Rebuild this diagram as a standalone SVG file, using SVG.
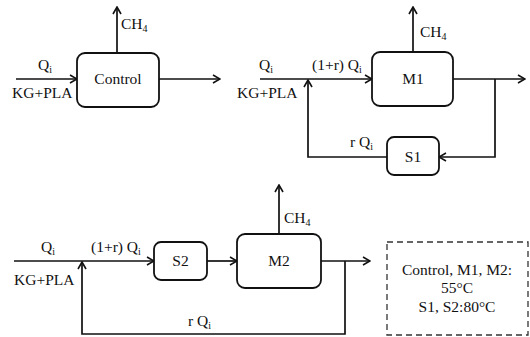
<svg xmlns="http://www.w3.org/2000/svg" width="530" height="337" viewBox="0 0 530 337">
<style>
.box{fill:#fff;stroke:#111;stroke-width:1.8}
.ln{fill:none;stroke:#111;stroke-width:1.7}
.ar{marker-end:url(#ah)}
text{font-family:"Liberation Serif","Times New Roman",serif;font-size:15.5px;fill:#111}
.c{text-anchor:middle}
.sub{font-size:10px}
</style>
<defs>
<marker id="ah" viewBox="0 0 10 10" refX="9" refY="5" markerWidth="10" markerHeight="10" markerUnits="userSpaceOnUse" orient="auto">
<path d="M2,1 L9,5 L2,9" fill="none" stroke="#111" stroke-width="1.6"/>
</marker>
</defs>
<g id="connectors">
<line class="ln ar" x1="16" y1="79" x2="77" y2="79"/>
<line class="ln ar" x1="117" y1="53" x2="117" y2="7"/>
<line class="ln ar" x1="159" y1="79" x2="220" y2="79"/>
<line class="ln ar" x1="260" y1="79" x2="372" y2="79"/>
<line class="ln ar" x1="413" y1="52" x2="413" y2="7"/>
<line class="ln ar" x1="453" y1="79" x2="525" y2="79"/>
<polyline class="ln ar" points="495,79 495,157 439,157"/>
<polyline class="ln ar" points="387,157 308,157 308,80"/>
<line class="ln ar" x1="14" y1="261" x2="154" y2="261"/>
<line class="ln ar" x1="207" y1="261" x2="237" y2="261"/>
<line class="ln ar" x1="279" y1="234" x2="279" y2="185"/>
<line class="ln ar" x1="321" y1="261" x2="370" y2="261"/>
<polyline class="ln ar" points="345,261 345,334 82,334 82,262"/>
</g>
<g id="control">
<rect class="box" x="77" y="53" width="82" height="54" rx="8"/>
<text class="c" x="118" y="84">Control</text>
</g>
<g id="m1">
<rect class="box" x="372" y="52" width="81" height="54" rx="8"/>
<text class="c" x="413" y="84">M1</text>
</g>
<g id="s1">
<rect class="box" x="387" y="137" width="52" height="38" rx="7"/>
<text class="c" x="413" y="162">S1</text>
</g>
<g id="s2">
<rect class="box" x="154" y="242" width="53" height="38" rx="7"/>
<text class="c" x="180.5" y="266">S2</text>
</g>
<g id="m2">
<rect class="box" x="237" y="234" width="84" height="54" rx="8"/>
<text class="c" x="279" y="266">M2</text>
</g>
<g id="legend">
<rect x="387" y="242" width="141" height="93" fill="#fff" stroke="#333" stroke-width="1.3" stroke-dasharray="6,4"/>
<text class="c" x="457" y="275">Control, M1, M2:</text>
<text class="c" x="457" y="293">55°C</text>
<text class="c" x="457" y="312">S1, S2:80°C</text>
</g>
<g id="labels">
<text x="38" y="70">Q<tspan class="sub" dy="3">i</tspan></text>
<text x="12" y="98">KG+PLA</text>
<text x="121" y="29">CH<tspan class="sub" dy="3">4</tspan></text>
<text x="259" y="70">Q<tspan class="sub" dy="3">i</tspan></text>
<text x="237" y="98">KG+PLA</text>
<text x="312" y="70">(1+r) Q<tspan class="sub" dy="3">i</tspan></text>
<text x="420" y="37">CH<tspan class="sub" dy="3">4</tspan></text>
<text x="350" y="147">r Q<tspan class="sub" dy="3">i</tspan></text>
<text x="41" y="252">Q<tspan class="sub" dy="3">i</tspan></text>
<text x="14" y="285">KG+PLA</text>
<text x="91" y="252">(1+r) Q<tspan class="sub" dy="3">i</tspan></text>
<text x="284" y="223">CH<tspan class="sub" dy="3">4</tspan></text>
<text x="188" y="326">r Q<tspan class="sub" dy="3">i</tspan></text>
</g>
</svg>
